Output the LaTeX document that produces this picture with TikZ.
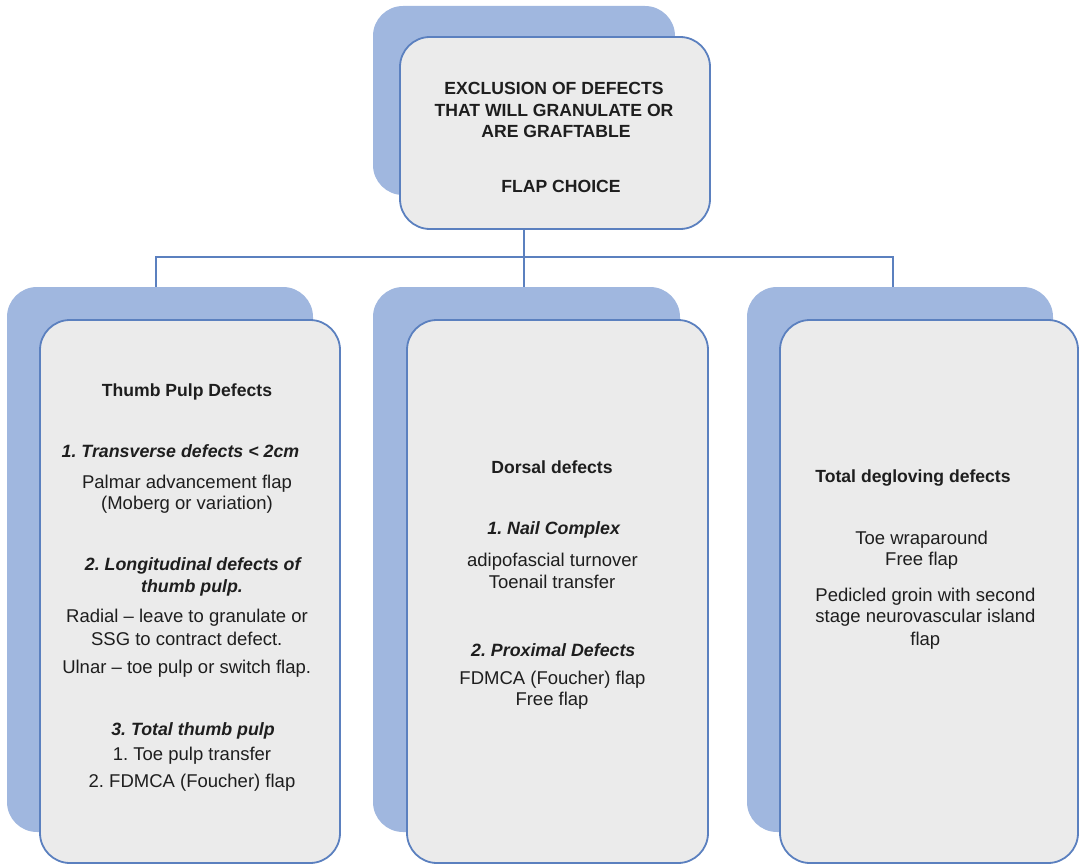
\documentclass[tikz,border=0pt]{standalone}
\usepackage{fontspec}
\setmainfont{Liberation Sans}
\frenchspacing
\definecolor{backblue}{HTML}{A0B7DF}
\definecolor{edgeblue}{HTML}{5B80BF}
\definecolor{boxgray}{HTML}{EBEBEB}
\definecolor{ink}{HTML}{1E1E1E}
\begin{document}
\begin{tikzpicture}[x=1pt,y=-1pt,
  backbox/.style={rectangle, rounded corners=30pt, fill=backblue, draw=none, inner sep=0pt},
  frontbox/.style={rectangle, rounded corners=30pt, fill=boxgray, draw=edgeblue, line width=1.8pt, inner sep=0pt},
  conn/.style={draw=edgeblue, line width=1.8pt},
  body/.style={anchor=base, inner sep=0pt, text=ink, font=\fontsize{18.5}{22}\selectfont\frenchspacing},
  head/.style={anchor=base, inner sep=0pt, text=ink, font=\fontsize{17.6}{22}\selectfont\bfseries\frenchspacing},
  sub/.style={anchor=base, inner sep=0pt, text=ink, font=\fontsize{17.8}{22}\selectfont\bfseries\itshape\frenchspacing}]
\useasboundingbox (0,0) rectangle (1079,864);

% back boxes (shadows)
\node[backbox, minimum width=302pt, minimum height=189pt] (tb) at (524,100.5) {};
\node[backbox, minimum width=306pt, minimum height=545pt] (lb) at (160,559.5) {};
\node[backbox, minimum width=307pt, minimum height=545pt] (mb) at (526.5,559.5) {};
\node[backbox, minimum width=306pt, minimum height=545pt] (rb) at (900,559.5) {};

% connectors
\coordinate (bus) at (525,257);
\coordinate (lx) at (156,0);
\coordinate (rx) at (893,0);
\draw[conn] (tb.south) -- (tb.south |- mb.north);
\draw[conn] (lx |- lb.north) -- (lx |- bus) -- (rx |- bus) -- (rx |- rb.north);

% front boxes
\node[frontbox, minimum width=310pt, minimum height=192pt] (tf) at (555,133) {};
\node[frontbox, minimum width=300pt, minimum height=543pt] (lf) at (190,591.5) {};
\node[frontbox, minimum width=301pt, minimum height=543pt] (mf) at (557.5,591.5) {};
\node[frontbox, minimum width=298pt, minimum height=543pt] (rf) at (929,591.5) {};

% top box text
\node[head] (t1) at (554,95) {EXCLUSION OF DEFECTS};
\node[head] (t2) at (554,116.7) {THAT WILL GRANULATE OR};
\node[head] (t3) at (556,138) {ARE GRAFTABLE};
\node[head] (t4) at (561,192.5) {FLAP CHOICE};

% left box text
\node[head] (l1) at (187,396.7) {Thumb Pulp Defects};
\node[sub]  (l2) at (180.5,457.3) {1. Transverse defects < 2cm};
\node[body] (l3) at (187,488.3) {Palmar advancement flap};
\node[body] (l4) at (187,509.5) {(Moberg or variation)};
\node[sub]  (l5) at (192.7,570.7) {2. Longitudinal defects of};
\node[sub]  (l6) at (192,592.7) {thumb pulp.};
\node[body] (l7) at (187,622.7) {Radial – leave to granulate or};
\node[body] (l8) at (186.7,645) {SSG to contract defect.};
\node[body] (l9) at (186.7,673.3) {Ulnar – toe pulp or switch flap.};
\node[sub]  (l10) at (193,735) {3. Total thumb pulp};
\node[body] (l11) at (192,760.7) {1. Toe pulp transfer};
\node[body] (l12) at (192,787.3) {2. FDMCA (Foucher) flap};

% middle box text
\node[head] (m1) at (552,473.3) {Dorsal defects};
\node[sub]  (m2) at (553.7,534) {1. Nail Complex};
\node[body] (m3) at (552.5,566) {adipofascial turnover};
\node[body] (m4) at (552,588.3) {Toenail transfer};
\node[sub]  (m5) at (553.3,656.7) {2. Proximal Defects};
\node[body] (m6) at (552.5,684) {FDMCA (Foucher) flap};
\node[body] (m7) at (552,705.7) {Free flap};

% right box text
\node[head] (r1) at (913,482.7) {Total degloving defects};
\node[body] (r2) at (921.7,544) {Toe wraparound};
\node[body] (r3) at (921.7,565.7) {Free flap};
\node[body] (r4) at (925.5,601) {Pedicled groin with second};
\node[body] (r5) at (925.5,622.7) {stage neurovascular island};
\node[body] (r6) at (925.3,645) {flap};
\end{tikzpicture}
\end{document}
